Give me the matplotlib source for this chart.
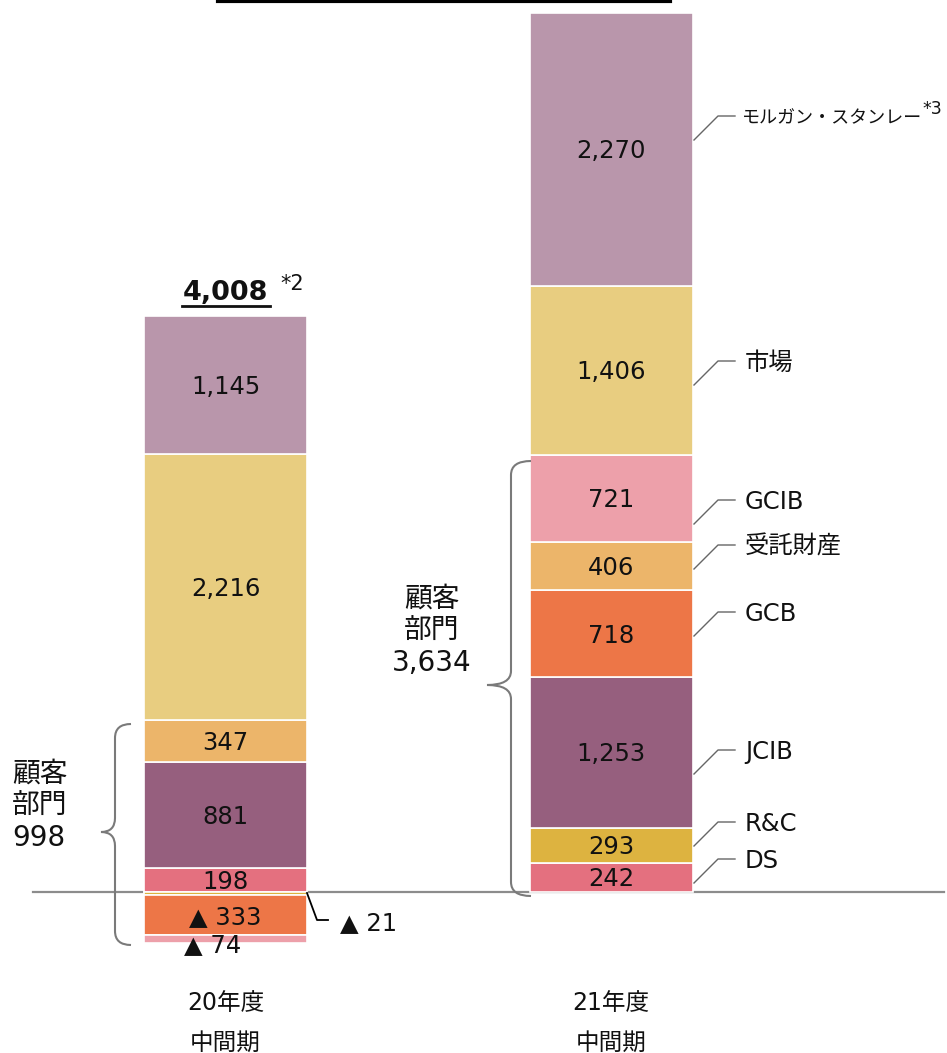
import matplotlib
matplotlib.use("Agg")
import matplotlib.pyplot as plt
from matplotlib.path import Path
from matplotlib.patches import PathPatch

plt.rcParams['font.family'] = ['DejaVu Sans', 'Noto Sans CJK JP']

# セグメント(下から順)
segments = ["DS", "R&C", "JCIB", "GCB", "受託財産", "GCIB", "市場", "モルガン・スタンレー"]
colors = ["#E4707F", "#DDB340", "#965F7E", "#ED7647", "#ECB56A", "#EDA0AA", "#E8CD80", "#B996AB"]
periods = ["20年度\n中間期", "21年度\n中間期"]
fy20 = [198, -21, 881, -333, 347, -74, 2216, 1145]
fy21 = [242, 293, 1253, 718, 406, 721, 1406, 2270]
total_fy20 = "4,008"
client_fy20 = "998"
client_fy21 = "3,634"

# 1px あたりの値 (縦軸スケール)
PX = 576 / 4787
BASE = 892          # ゼロ線の位置(上からのpx)
H = 1053


def py(ypx):
    return (BASE - ypx) / PX


def fmt(v):
    s = f"{abs(v):,}"
    return s if v >= 0 else "▲ " + s


fig = plt.figure(figsize=(9.47, 10.53), dpi=100)
ax = fig.add_axes([0, 0, 1, 1])
ax.set_xlim(0, 947)
ax.set_ylim(py(H), py(0))
ax.axis("off")

xs = [225.5, 611]
width = 163
nudge = 2 / PX   # 数値ラベルを少し下げる

ax.plot([33, 944], [0, 0], color="#8c8c8c", lw=1.6, zorder=1)

for x, vals in zip(xs, [fy20, fy21]):
    pos, neg = 0, 0
    for v, c in zip(vals, colors):
        if v >= 0:
            b = pos
            pos += v
        else:
            b = neg
            neg += v
        ax.bar(x, v, bottom=b, width=width, color=c, edgecolor="white",
               linewidth=1.2, zorder=2)
        if abs(v) > 100:
            ax.text(x, b + v / 2 - nudge, fmt(v), ha="center", va="center",
                    fontsize=17.5, color="#111111", zorder=3)

# 20年度の小さいマイナス項目
ax.text(xs[0] - 13, py(945), fmt(fy20[5]), ha="center", va="center",
        fontsize=17.5, color="#111111", zorder=3)
ax.plot([307, 317, 328], [py(893), py(920), py(920)], color="black", lw=1.3, zorder=3)
ax.text(340, py(923), fmt(fy20[1]), ha="left", va="center", fontsize=17.5, color="#111111")

# 20年度合計
ax.text(xs[0], py(293), total_fy20, ha="center", va="center", fontsize=19.5,
        fontweight="bold", color="#111111")
ax.plot([182, 270], [py(306), py(306)], color="#111111", lw=2)
ax.text(280, py(284), "*2", ha="left", va="center", fontsize=15, color="#111111")

# 21年度のセグメント名
label_y = [859, 822, 750, 612, 545, 500, 361, 116]
for name, ty in zip(segments, label_y):
    ax.plot([694, 718, 735], [py(ty + 24), py(ty), py(ty)], color="#666666", lw=1)
    fs = 13 if len(name) > 6 else 17.5
    ax.text(745 if fs > 13 else 742, py(ty + 2), name, ha="left", va="center",
            fontsize=fs, color="#111111")
ax.text(922, py(109), "*3", ha="left", va="center", fontsize=12.5, color="#111111")


def brace(x_end, x_v, x_tip, y_top, y_mid, y_bot, r=14):
    pts = [(x_end, y_top), (x_v, y_top), (x_v, y_top + r),
           (x_v, y_mid - r), (x_v, y_mid), (x_tip, y_mid),
           (x_v, y_mid), (x_v, y_mid + r),
           (x_v, y_bot - r), (x_v, y_bot), (x_end, y_bot)]
    codes = [Path.MOVETO, Path.CURVE3, Path.CURVE3,
             Path.LINETO, Path.CURVE3, Path.CURVE3,
             Path.CURVE3, Path.CURVE3,
             Path.LINETO, Path.CURVE3, Path.CURVE3]
    verts = [(x, py(y)) for x, y in pts]
    ax.add_patch(PathPatch(Path(verts, codes), fill=False, edgecolor="#7a7a7a",
                           lw=1.5, zorder=3))


brace(131, 115, 101, 724, 832, 945)
brace(531, 511, 487, 461, 685, 896)

ax.text(12, py(806), "顧客\n部門\n" + client_fy20, ha="left", va="center",
        fontsize=20, linespacing=1.2, color="#111111")
ax.text(392, py(631), "顧客\n部門\n" + client_fy21, ha="left", va="center",
        fontsize=20, linespacing=1.2, color="#111111", multialignment="center")

for x, p in zip(xs, periods):
    ax.text(x, py(1023), p, ha="center", va="center", fontsize=17,
            linespacing=1.8, color="#111111")

# 見出しの下線
ax.plot([218, 670], [py(1), py(1)], color="black", lw=3)

fig.savefig("out.png", dpi=100)
